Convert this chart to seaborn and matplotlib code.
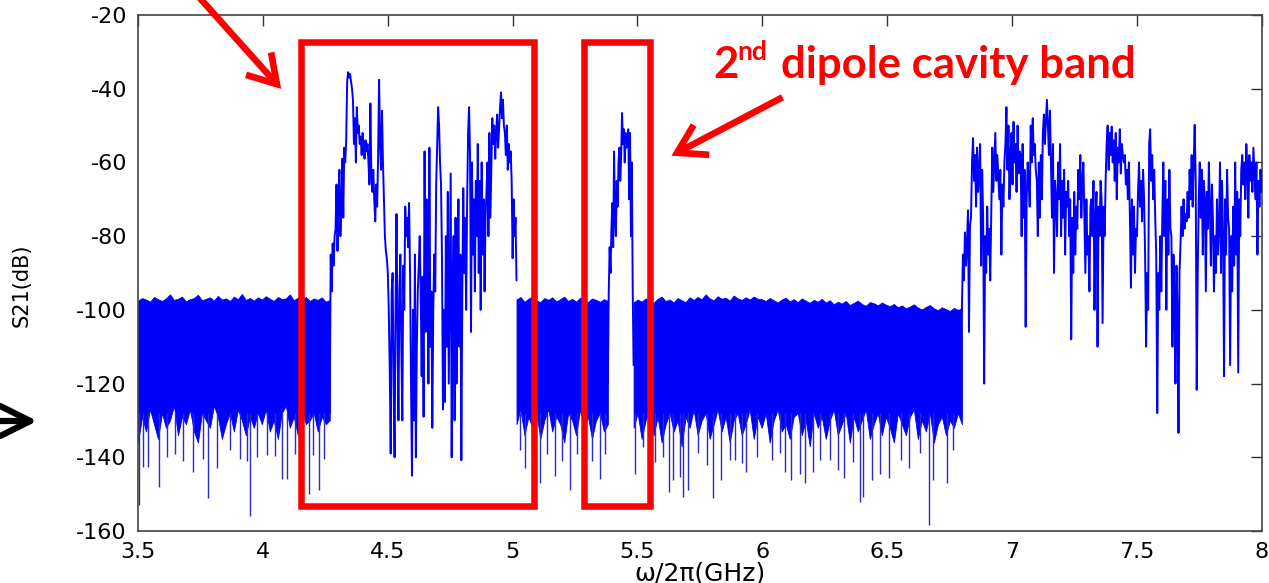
import numpy as np
import pandas as pd
import matplotlib
matplotlib.use("Agg")
import matplotlib.pyplot as plt
from matplotlib.patches import Rectangle, FancyArrowPatch
import seaborn as sns

# ---------------- measured S21 transmission (dB) ----------------
# Dense noise-floor stretches: frequency span (GHz), upper and lower edge of the band
noise_a_span = (3.500, 4.268)
noise_a_top = [-97.5, -96.8, -97.2, -97.8, -96.5, -97.1, -97.6, -96.9, -95.8, -97.3,
               -97.0, -96.4, -97.7, -97.1, -96.8, -95.9, -97.4, -97.0, -96.6, -97.5,
               -96.2, -97.2, -96.9, -97.6, -96.4, -97.1, -95.7, -97.3, -96.8, -97.5,
               -96.6, -97.2, -96.3, -97.0, -97.6, -96.5, -97.1, -96.9, -95.8, -97.4,
               -96.7, -97.2, -96.5, -97.6, -96.9, -97.3, -96.6, -97.8, -97.3]
noise_a_bottom = [-136, -129, -133, -127, -131, -135, -128, -132, -130, -126,
                  -134, -129, -131, -127, -133, -136, -128, -130, -132, -126,
                  -129, -135, -131, -128, -133, -127, -130, -134, -129, -132,
                  -128, -131, -127, -133, -130, -135, -128, -126, -132, -129,
                  -134, -127, -131, -130, -128, -133, -129, -131, -130]

noise_b_span = (5.016, 5.382)
noise_b_top = [-97.2, -96.5, -97.8, -97.0, -96.3, -97.5, -97.9, -96.8, -97.3, -96.6,
               -97.7, -97.1, -96.4, -97.6, -97.0, -97.8, -96.7, -97.4, -97.9, -96.9,
               -97.3, -97.8, -97.1, -97.6]
noise_b_bottom = [-131, -127, -134, -129, -132, -128, -135, -130, -127, -133,
                  -129, -131, -136, -128, -130, -134, -127, -132, -129, -135,
                  -130, -128, -133, -131]

noise_c_span = (5.485, 6.800)
noise_c_top = [-98.0, -97.2, -97.8, -96.9, -97.5, -98.1, -97.0, -96.4, -97.6, -97.2, -98.0, -96.8, -97.4, -97.9, -96.6, -97.3,
               -96.5, -97.1, -95.8, -96.9, -97.4, -96.3, -97.0, -96.7, -97.5, -96.1, -96.9, -97.3, -96.6, -97.2, -96.4, -97.0,
               -97.1, -97.6, -96.8, -97.4, -98.0, -97.2, -96.7, -97.7, -97.1, -97.9, -96.9, -97.5, -98.1, -97.3, -97.8, -97.0,
               -98.0, -97.4, -98.5, -97.8, -98.3, -97.6, -98.7, -98.1, -97.5, -98.4, -98.9, -97.9, -98.2, -98.8, -98.0, -98.6,
               -99.0, -98.4, -99.3, -98.8, -99.6, -99.1, -98.5, -99.4, -99.9, -99.2, -98.7, -99.6, -100.1, -99.3, -99.8,
               -100.3, -99.5, -100.0, -99.6]
noise_c_bottom = [-132, -128, -135, -130, -127, -134, -129, -136, -131, -128, -133, -130, -137, -129, -132, -127,
                  -134, -130, -128, -135, -131, -127, -133, -129, -136, -130, -128, -134, -131, -127, -135, -129,
                  -132, -128, -136, -130, -127, -133, -131, -135, -129, -128, -134, -130, -137, -128, -132, -129,
                  -135, -130, -127, -134, -131, -128, -136, -129, -133, -130, -127, -135, -131, -128, -134, -129,
                  -132, -136, -128, -131, -134, -129, -127, -135, -130, -133, -128, -136, -131, -129, -134, -130,
                  -132, -128, -131]

# Deep excursions below the noise band
spike_freq = [3.505, 3.521, 3.541, 3.585, 3.615, 3.648, 3.679, 3.719, 3.762, 3.782,
              3.815, 3.868, 3.908, 3.935, 3.949, 3.975, 4.015, 4.049, 4.075, 4.096,
              4.129, 4.186, 4.202, 4.226, 4.245,
              5.030, 5.050, 5.080, 5.110, 5.140, 5.170, 5.200, 5.230, 5.260, 5.290,
              5.320, 5.350, 5.370,
              5.490, 5.524, 5.571, 5.604, 5.627, 5.644, 5.671, 5.684, 5.704, 5.744,
              5.778, 5.804, 5.834, 5.871, 5.891, 5.918, 5.935, 5.978, 6.038, 6.071,
              6.091, 6.114, 6.151, 6.171, 6.204, 6.231, 6.271, 6.305, 6.329, 6.365,
              6.391, 6.405, 6.438, 6.472, 6.509, 6.558, 6.589, 6.632, 6.669, 6.685,
              6.739, 6.765]
spike_db = [-153.0, -142.6, -142.6, -148.0, -140.0, -139.0, -141.0, -144.0, -140.5, -151.0,
            -143.0, -138.0, -140.5, -141.0, -156.0, -140.0, -139.5, -139.7, -146.0, -146.0,
            -139.0, -150.0, -139.5, -149.0, -140.5,
            -138.0, -143.0, -140.0, -147.0, -139.0, -145.0, -141.0, -149.0, -139.0, -144.0,
            -141.0, -146.0, -139.0,
            -144.4, -137.1, -141.2, -139.8, -149.3, -146.2, -145.3, -150.7, -148.9, -138.9,
            -142.1, -151.1, -146.2, -140.7, -140.7, -141.6, -143.9, -139.8, -140.7, -138.9,
            -143.9, -146.2, -144.4, -147.1, -143.9, -140.7, -140.7, -143.5, -145.7, -141.2,
            -152.0, -150.7, -146.2, -144.4, -145.7, -140.7, -143.0, -138.9, -158.4, -146.2,
            -147.1, -138.0]

# Cavity pass-bands (uniform sweep over each span)
band1_span = (4.268, 5.016)
band1_db = [-128, -85, -95, -82, -88, -80,
            -78, -66, -84, -70, -62, -80, -72, -59, -75,
            -56, -60, -54,
            -38, -35.5, -37, -36, -38, -40,
            -43, -55, -48, -60, -45, -52,
            -50, -55, -53, -58, -52, -56, -59, -54, -57, -55,
            -60, -66, -44, -63, -68, -62,
            -70, -76, -66, -72,
            -58, -37.6, -55, -62, -46, -60,
            -70, -80,
            -84, -86, -90,
            -100, -116, -139, -95,
            -90, -120, -140, -100, -74, -105, -130, -95,
            -85, -110, -130, -88, -100,
            -72, -80, -75, -83, -71,
            -90, -120, -145, -100, -130, -85, -140, -110, -95, -88,
            -80, -95, -118,
            -91, -129, -57, -106, -70,
            -90, -120, -56, -110, -95,
            -132, -100, -85, -95,
            -66, -55, -45, -50, -60, -66,
            -86, -127, -100,
            -125, -80, -110, -68, -120, -90,
            -63, -140, -100, -80, -130,
            -75, -120, -90, -70, -110, -85, -140.8, -95,
            -67, -90, -75, -100, -70,
            -52, -45, -58, -106,
            -60, -85, -70, -95, -65, -80,
            -55, -90, -65, -100, -60, -85, -70, -95, -75, -68,
            -60, -80, -52, -75, -62,
            -48, -55, -50, -59, -52, -47, -56, -51,
            -45, -41, -48, -43, -50,
            -52, -58, -50, -62, -55, -60, -57,
            -65, -86, -70, -80, -75, -92]

band2_span = (5.382, 5.485)
band2_db = [-120, -95, -83, -90, -78, -71, -83, -57, -75, -80, -65, -72, -60, -56,
            -65, -58, -46.6, -55, -51, -60, -52, -56, -53, -51, -70, -52, -80, -60,
            -94, -115]

band3_span = (6.800, 8.000)
band3_db = [-100, -85, -92, -79, -88, -82,
            -73, -106, -77, -75, -60,
            -53.4, -65, -58, -72, -56, -68, -62,
            -55, -88, -62,
            -75, -120, -80, -90, -72, -85, -78, -92, -74,
            -56, -68, -60, -52, -65, -58,
            -64, -70, -62, -85, -66, -72, -60,
            -55, -45, -62, -50, -70, -58, -52, -66, -49, -60, -55, -68, -50, -63, -57,
            -58, -80, -55, -75, -62, -104.6, -70, -60, -65, -72,
            -50, -60, -48, -58, -55, -62,
            -65, -80, -60, -75, -58, -70,
            -52, -47, -55, -49, -43, -50, -58, -46,
            -60, -75, -55, -90, -65, -70, -80,
            -60, -70, -55, -80, -65, -75, -62, -85, -68, -72,
            -65, -80, -70, -108, -75, -90, -68, -85, -72, -78,
            -62, -70, -58, -75, -65, -60,
            -75, -90, -70, -85, -80, -95, -72,
            -70, -80, -65, -100, -75, -68, -110, -72, -80, -65,
            -70, -103.6, -72, -80, -65,
            -55, -50, -62, -52, -58, -50.3, -60, -54, -65, -52, -70, -56, -60, -51, -63, -55, -58, -60,
            -58, -66, -62, -70, -60,
            -75, -94, -70, -85, -72, -90, -78, -80, -68,
            -60, -72, -65, -76, -62, -70,
            -85, -110, -90, -100,
            -55, -51, -65, -58, -70, -62, -75,
            -85, -128, -90, -100, -80, -95, -75,
            -60, -80, -65, -100, -70, -85, -62, -78,
            -80, -110, -85, -95, -120, -88, -100, -133.4, -90, -82,
            -72, -80, -70, -78, -74, -76, -68, -75,
            -62, -70, -58, -72, -60, -49.8, -65,
            -121.7, -90, -70,
            -60, -75, -62, -85, -65, -70, -95, -68, -78, -60, -72, -88, -66,
            -75, -95, -80, -90, -70, -85, -78,
            -60, -90, -65, -80, -118, -70, -85, -62, -75,
            -78, -115, -80, -95, -72, -88,
            -60, -85, -68, -117, -70, -80, -62,
            -58, -66, -60, -70, -55, -62, -75, -58, -65, -60, -68, -56, -63, -70, -60, -85, -65, -72, -62, -68]

# Highlighted frequency windows (GHz, dB corners)
box_first_band = (4.151, 5.086, -153.35, -27.19)
box_second_band = (5.285, 5.552, -153.35, -27.19)

xticks = [3.5, 4, 4.5, 5, 5.5, 6, 6.5, 7, 7.5, 8]
yticks = [-160, -140, -120, -100, -80, -60, -40, -20]

# ---------------- figure ----------------
sns.set_style("white")
plt.rcParams["font.family"] = ["DejaVu Sans"]
plt.rcParams["axes.unicode_minus"] = False
plt.rcParams["text.color"] = "black"
plt.rcParams["axes.labelcolor"] = "black"
plt.rcParams["xtick.color"] = "black"
plt.rcParams["ytick.color"] = "black"

W, H = 1269, 583
fig = plt.figure(figsize=(W / 100, H / 100), dpi=100)
ax = fig.add_axes([138 / W, 52 / H, 1123.5 / W, 516 / H])

BLUE = "#0000ff"

# dense noise floor
for span, top, bottom in [(noise_a_span, noise_a_top, noise_a_bottom),
                          (noise_b_span, noise_b_top, noise_b_bottom),
                          (noise_c_span, noise_c_top, noise_c_bottom)]:
    f = np.linspace(span[0], span[1], len(top))
    ax.fill_between(f, bottom, top, color=BLUE, edgecolor=BLUE, linewidth=0.6, zorder=2)

ax.vlines(spike_freq, -128, spike_db, color="#2b2bc4", linewidth=1.0, zorder=2)

# resonance traces
frames = []
for name, span, vals in [("band1", band1_span, band1_db),
                         ("band2", band2_span, band2_db),
                         ("band3", band3_span, band3_db)]:
    frames.append(pd.DataFrame({"freq": np.linspace(span[0], span[1], len(vals)),
                                "s21": vals, "segment": name}))
trace = pd.concat(frames, ignore_index=True)
sns.lineplot(data=trace, x="freq", y="s21", units="segment", estimator=None,
             sort=False, color=BLUE, linewidth=1.4, ax=ax, zorder=3)

ax.set_xlim(3.5, 8)
ax.set_ylim(-160, -20)
ax.set_xticks(xticks)
ax.set_xticklabels([f"{t:g}" for t in xticks])
ax.set_yticks(yticks)
ax.set_yticklabels([str(t) for t in yticks])
ax.tick_params(direction="in", length=8, width=1.0, top=True, right=True,
               labelsize=16, pad=8, color="#333333", labelcolor="black")
for s in ax.spines.values():
    s.set_color("#444444")
    s.set_linewidth(1.2)

ax.set_xlabel("ω/2π(GHz)", fontsize=18, color="black")
ax.set_ylabel("S21(dB)", fontsize=15, color="black")
ax.xaxis.set_label_coords(0.5, -0.082)
ax.xaxis.label.set_va("center")
ax.yaxis.set_label_coords(-0.1035, 0.477)
ax.yaxis.label.set_va("center")

# highlight boxes
for x0, x1, y0, y1 in [box_first_band, box_second_band]:
    ax.add_patch(Rectangle((x0, y0), x1 - x0, y1 - y0, fill=False, edgecolor="#ff0000",
                           linewidth=4.7, joinstyle="miter", clip_on=False, zorder=5))


def px(x, y):
    return (x / W, 1 - y / H)


arrow_kw = dict(transform=fig.transFigure, arrowstyle="->,head_length=0.9,head_width=0.55",
                mutation_scale=22, linewidth=4.8, capstyle="butt", joinstyle="miter")
fig.patches.append(FancyArrowPatch(px(198, -4), px(283, 91), color="#ff0000", **arrow_kw))
fig.patches.append(FancyArrowPatch(px(785, 96), px(669, 157), color="#ff0000", **arrow_kw))
fig.patches.append(FancyArrowPatch(px(-12, 421), px(40, 421), color="black",
                                   transform=fig.transFigure,
                                   arrowstyle="->,head_length=1.2,head_width=0.6",
                                   mutation_scale=18, linewidth=4.5))

# annotation text
txt = dict(color="#ff0000", fontweight="bold", family=["Lato", "DejaVu Sans"], va="baseline")
fig.text(*px(713, 78), "2", fontsize=31.5, **txt)
fig.text(*px(737, 60), "nd", fontsize=19, **txt)
fig.text(*px(781, 78), "dipole cavity band", fontsize=31.5, **txt)

fig.savefig("out.png", dpi=100)
